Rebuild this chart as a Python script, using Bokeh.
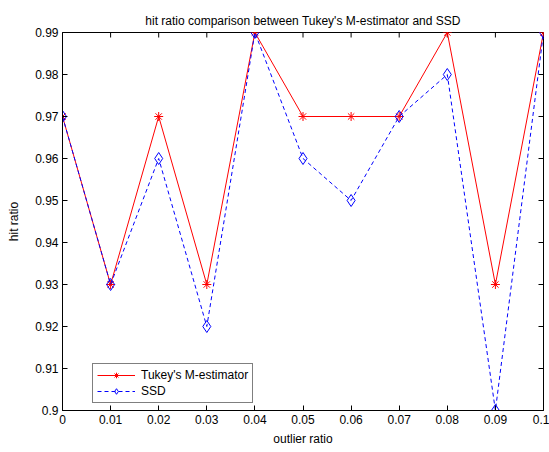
import math
from bokeh.plotting import figure
from bokeh.models import FixedTicker, Range1d, Legend, LegendItem
from bokeh.embed import file_html
from bokeh.resources import INLINE

outlier_ratio = [0.0, 0.01, 0.02, 0.03, 0.04, 0.05, 0.06, 0.07, 0.08, 0.09, 0.1]
tukey = [0.97, 0.93, 0.97, 0.93, 0.99, 0.97, 0.97, 0.97, 0.99, 0.93, 0.99]
ssd = [0.97, 0.93, 0.96, 0.92, 0.99, 0.96, 0.95, 0.97, 0.98, 0.90, 0.99]
x_ticks = [0.0, 0.01, 0.02, 0.03, 0.04, 0.05, 0.06, 0.07, 0.08, 0.09, 0.1]
x_labels = ["0", "0.01", "0.02", "0.03", "0.04", "0.05", "0.06", "0.07", "0.08", "0.09", "0.1"]
y_ticks = [0.9, 0.91, 0.92, 0.93, 0.94, 0.95, 0.96, 0.97, 0.98, 0.99]
y_labels = ["0.9", "0.91", "0.92", "0.93", "0.94", "0.95", "0.96", "0.97", "0.98", "0.99"]

FONT = "Liberation Sans"
X_MIN, X_MAX = 0.0, 0.1
Y_MIN, Y_MAX = 0.9, 0.99

p = figure(width=549, height=452, output_backend="svg", toolbar_location=None,
           x_range=Range1d(X_MIN, X_MAX), y_range=Range1d(Y_MIN, Y_MAX),
           title="hit ratio comparison between Tukey's M-estimator and SSD",
           min_border_left=62, min_border_right=6, min_border_top=32, min_border_bottom=42)
p.title.align = "center"
p.title.text_font = FONT
p.title.text_font_size = "12px"
p.title.text_font_style = "normal"
p.title.text_color = "black"
p.title.offset = 0
p.grid.visible = False
p.outline_line_color = "black"
p.background_fill_color = "white"
p.border_fill_color = "white"

for ax, ticks, labels in ((p.xaxis[0], x_ticks, x_labels), (p.yaxis[0], y_ticks, y_labels)):
    ax.ticker = FixedTicker(ticks=ticks)
    ax.major_label_overrides = {t: l for t, l in zip(ticks, labels)}
    ax.major_tick_in = 5
    ax.major_tick_out = 0
    ax.minor_tick_line_color = None
    ax.major_label_text_font = FONT
    ax.major_label_text_font_size = "12px"
    ax.major_label_text_color = "black"
    ax.axis_label_text_font = FONT
    ax.axis_label_text_font_size = "12px"
    ax.axis_label_text_font_style = "normal"
    ax.axis_label_text_color = "black"
    ax.axis_line_color = "black"
    ax.major_tick_line_color = "black"
p.xaxis.axis_label = "outlier ratio"
p.yaxis.axis_label = "hit ratio"
p.xaxis.major_label_standoff = 4
p.yaxis.major_label_standoff = 4
p.xaxis.axis_label_standoff = 5
p.yaxis.axis_label_standoff = 11

# inward ticks on the top and right edges of the box
p.ray(x=[X_MAX] * len(y_ticks), y=y_ticks, length=5, length_units="screen",
      angle=math.pi, line_color="black", line_width=1)
p.ray(x=x_ticks, y=[Y_MAX] * len(x_ticks), length=5, length_units="screen",
      angle=-math.pi / 2, line_color="black", line_width=1)

r1 = p.line(outlier_ratio, tukey, line_color="red", line_width=1)
m1 = p.scatter(outlier_ratio, tukey, marker="asterisk", size=9, line_color="red", line_width=1)
r2 = p.line(outlier_ratio, ssd, line_color="blue", line_width=1, line_dash="4 3")
m2 = p.scatter(outlier_ratio, ssd, marker="diamond", size=12, line_color="blue",
               fill_color=None, line_width=1)

legend = Legend(items=[LegendItem(label="Tukey's M-estimator", renderers=[r1, m1]),
                       LegendItem(label="SSD", renderers=[r2, m2])],
                location=(30, 7), label_text_font=FONT, label_text_font_size="12px",
                label_text_color="black",
                border_line_color="black", glyph_width=38, glyph_height=14,
                label_height=14, spacing=2, padding=4, margin=0, label_standoff=6)
legend.label_text_line_height = 1.0
p.add_layout(legend)

open("out.html", "w").write(file_html(p, INLINE))
